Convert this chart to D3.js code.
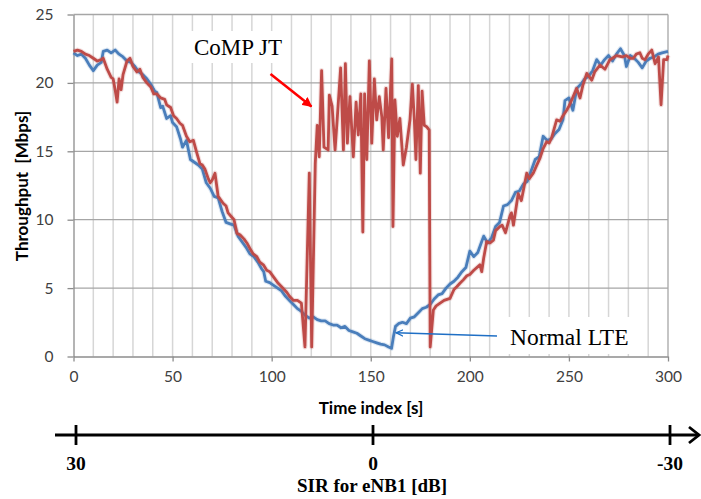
<!DOCTYPE html>
<html lang="en">
<head>
  <meta charset="UTF-8">
  <title>Throughput vs time index</title>
  <script src="https://d3js.org/d3.v7.min.js"></script>
  <style>
    body { margin: 0; background: #fff; }
    .axis text { font-family: Lato, sans-serif; font-size: 15.5px; fill: #404040; }
    .axis path, .axis line { stroke: #8c8c8c; stroke-width: 1.3; }
    .series { fill: none; stroke-width: 2.8; stroke-linejoin: round; }
    .halo { fill: none; stroke-width: 5; stroke-linejoin: round; opacity: 0.18; }
  </style>
</head>
<body>

<svg id="chart" width="701" height="499"></svg>

<script>
  // Normal LTE (blue)
  var lteTime = [0, 2, 4, 6, 8, 10, 12, 14, 15, 17, 19, 21, 23, 25, 27, 29, 31, 33, 35, 37, 39, 41, 42, 44, 45, 47, 49, 50,
    52, 54, 55, 57, 59, 61, 63, 65, 67, 69, 71, 73, 75, 77, 79, 81, 83, 85, 87, 89, 91, 93, 95, 96, 97, 99, 101, 103,
    105, 107, 109, 111, 113, 115, 117, 119, 121, 123, 125, 127, 129, 131, 133, 135, 137, 139, 141, 143, 145, 147, 149,
    151, 153, 155, 157, 159, 160.5, 161.5, 162.5, 164, 166, 168, 170, 172, 174, 176, 178, 180, 182, 184, 186, 188, 190,
    192, 194, 196, 198, 200, 202, 204, 206, 207, 209, 211, 213, 215, 217, 219, 221, 223, 225, 227, 229, 231, 233, 235,
    237, 239, 241, 243, 245, 247, 248, 250, 252, 254, 256, 258, 260, 262, 264, 266, 268, 270, 272, 274, 276, 278, 279,
    281, 283, 285, 287, 289, 291, 293, 295, 297, 300];
  var lteThroughput = [22.2, 22.0, 22.1, 21.8, 21.3, 20.9, 21.3, 21.5, 22.3, 22.4, 22.2, 22.4, 22.1, 21.9, 21.6, 21.5,
    21.2, 20.8, 20.6, 20.3, 19.9, 19.4, 19.3, 18.2, 18.3, 17.4, 17.6, 17.1, 16.8, 15.9, 15.3, 15.8, 14.4, 14.2, 14.0,
    13.7, 12.7, 12.3, 11.7, 11.6, 10.6, 9.8, 9.7, 9.6, 8.8, 8.4, 8.0, 7.5, 7.3, 6.9, 6.4, 6.2, 5.5, 5.4, 5.2, 5.0, 4.8,
    4.4, 4.1, 3.8, 3.5, 3.3, 3.0, 2.8, 2.9, 2.7, 2.6, 2.6, 2.4, 2.3, 2.3, 2.1, 2.2, 1.9, 1.8, 1.7, 1.5, 1.3, 1.2, 1.1,
    1.0, 0.9, 0.85, 0.7, 0.6, 1.5, 2.2, 2.4, 2.5, 2.4, 2.8, 2.9, 3.2, 3.5, 3.6, 3.8, 4.2, 4.5, 4.6, 5.0, 5.3, 5.5, 5.8,
    6.2, 6.5, 7.7, 7.3, 7.6, 8.4, 8.8, 8.3, 8.7, 9.5, 9.8, 11.0, 11.1, 11.4, 12.0, 12.1, 12.6, 12.8, 13.6, 14.4, 14.6,
    16.1, 15.8, 15.9, 16.3, 16.6, 17.3, 18.7, 18.9, 18.0, 19.6, 19.9, 20.3, 20.5, 20.9, 21.7, 21.3, 21.7, 22.0, 21.6,
    22.1, 22.5, 22.0, 21.2, 22.0, 21.8, 21.5, 21.1, 21.6, 21.8, 21.9, 22.1, 22.2, 22.3];

  // CoMP JT (red)
  var compTime = [0, 2, 4, 6, 8, 10, 12, 14, 15, 17, 19, 20, 21, 22, 23, 24, 25, 27, 28.5, 30, 32, 33.5, 35, 37, 39,
    40.5, 42, 44, 46, 47, 49, 50.5, 52, 53.7, 55, 57, 58.7, 60.5, 62, 63.8, 65, 66.3, 68, 69, 70, 71.4, 73, 75.5, 77,
    78, 79.8, 81, 82.5, 84, 86, 87.5, 89, 90.7, 92.5, 94, 95.8, 97.5, 99, 101, 103.3, 105, 107.6, 109, 111, 113, 115,
    116.8, 119, 120.2, 122, 123, 124, 125.2, 126.4, 128.5, 129.1, 130.5, 132, 133.1, 134.8, 136.2, 137.2, 138.2, 139.5,
    141.2, 142.6, 143.7, 145, 146, 146.9, 148, 149.3, 150.5, 151.8, 153, 154.3, 155.6, 156.3, 157.7, 159, 160.6, 161.2,
    162.2, 163.4, 164.7, 166.4, 168, 169.8, 171, 172, 172.8, 174, 175, 175.9, 177, 178.2, 179.5, 180, 181.6, 183, 185,
    187, 190, 192, 193.4, 195, 196.7, 198.5, 200, 202, 205.1, 206, 207, 208.5, 210.2, 211.9, 213, 215.2, 216.3, 218,
    220.3, 221, 222, 224.4, 226, 227.5, 228.7, 230, 232, 233.5, 235.4, 237, 238.8, 240, 241.3, 243.8, 245.5, 247,
    248.9, 250, 251.4, 253.9, 255.6, 257, 259, 261.5, 263, 265.7, 268.2, 270.7, 272, 274, 277, 279, 281, 282.5, 284,
    285.8, 287, 288.4, 290, 291.8, 293.5, 295.2, 296.5, 297.8, 299.5, 300];
  var compThroughput = [22.3, 22.4, 22.3, 22.1, 22.0, 21.8, 21.6, 21.7, 21.8, 21.0, 20.4, 20.3, 19.5, 18.6, 20.3,
    19.5, 20.6, 21.6, 21.8, 21.2, 20.8, 21.0, 20.4, 20.0, 19.7, 19.2, 19.2, 18.9, 18.8, 18.4, 18.2, 17.6, 17.4, 17.05,
    16.9, 16.1, 15.7, 15.8, 15.0, 14.1, 14.0, 13.7, 13.0, 12.7, 12.9, 13.4, 11.7, 11.2, 11.0, 10.5, 10.2, 10.0, 9.0,
    8.9, 8.6, 8.3, 7.9, 7.5, 7.3, 6.9, 6.7, 6.3, 6.2, 5.8, 5.35, 5.1, 4.7, 4.4, 4.1, 4.1, 3.9, 0.7, 13.4, 0.7, 14.1,
    16.9, 14.6, 20.9, 15.3, 15.1, 19.1, 18.3, 15.1, 17.4, 21.1, 15.1, 21.4, 15.6, 19.0, 14.6, 18.6, 16.2, 19.2, 9.1,
    19.2, 14.4, 21.6, 15.6, 20.3, 17.3, 19.0, 17.5, 15.1, 19.6, 16.0, 21.75, 9.5, 18.75, 16.1, 17.4, 14.0, 15.3, 17.3,
    19.9, 17.3, 14.4, 19.8, 13.4, 19.4, 16.9, 16.8, 16.55, 0.7, 3.4, 3.7, 3.9, 4.1, 4.25, 4.9, 5.1, 5.35, 5.6, 5.9,
    6.0, 6.3, 6.7, 6.2, 7.2, 8.4, 8.3, 8.5, 9.2, 9.5, 9.6, 9.05, 10.3, 10.5, 9.6, 11.9, 11.4, 12.5, 13.4, 13.0, 13.4,
    13.9, 14.5, 15.2, 15.7, 15.6, 16.0, 17.3, 17.2, 17.6, 18.0, 18.3, 18.75, 19.6, 18.9, 19.8, 20.7, 20.2, 20.8, 21.3,
    21.0, 21.7, 21.8, 22.0, 21.9, 22.0, 21.8, 21.8, 22.1, 22.2, 21.8, 21.7, 22.1, 22.4, 21.4, 21.9, 18.4, 21.7, 21.7,
    22.0];

  var timeTicks = [0, 50, 100, 150, 200, 250, 300];
  var throughputTicks = [0, 5, 10, 15, 20, 25];
  var sirTicks = [30, 0, -30];

  var svg = d3.select('#chart');

  var x = d3.scaleLinear().domain([0, 300]).range([73.5, 668]);
  var y = d3.scaleLinear().domain([0, 25]).range([356.5, 14.5]);
  var sir = d3.scaleLinear().domain([30, -30]).range([76, 670]);

  // vertical grid every 10 s
  svg.append('g')
    .selectAll('line')
    .data(x.ticks(30).filter(function (d) { return d > 0 && d < 300; }))
    .enter()
    .append('line')
    .attr('x1', d => x(d)).attr('x2', d => x(d))
    .attr('y1', y(25)).attr('y2', y(0))
    .attr('stroke', '#d6d6d6')
    .attr('stroke-width', 1.5);

  // horizontal grid
  svg.append('g')
    .selectAll('line')
    .data(throughputTicks.slice(1))
    .enter()
    .append('line')
    .attr('x1', x(0)).attr('x2', x(300))
    .attr('y1', d => y(d)).attr('y2', d => y(d))
    .attr('stroke', '#a6a6a6')
    .attr('stroke-width', 1.3);

  // plot border on the right
  svg.append('line')
    .attr('x1', x(300)).attr('x2', x(300))
    .attr('y1', y(25)).attr('y2', y(0))
    .attr('stroke', '#a6a6a6')
    .attr('stroke-width', 1.3);

  // axes
  svg.append('g')
    .attr('class', 'axis')
    .attr('transform', 'translate(0,' + y(0) + ')')
    .call(d3.axisBottom(x).tickValues(timeTicks).tickSize(5).tickSizeOuter(0).tickPadding(9));

  svg.append('g')
    .attr('class', 'axis')
    .attr('transform', 'translate(' + x(0) + ',0)')
    .call(d3.axisLeft(y).tickValues(throughputTicks).tickSize(6).tickSizeOuter(0).tickPadding(14));

  // series
  var line = d3.line()
    .x(d => x(d[0]))
    .y(d => y(d[1]));

  var series = [
    { pts: d3.zip(lteTime, lteThroughput), color: '#4a7ebb' },
    { pts: d3.zip(compTime, compThroughput), color: '#be4b48' }
  ];

  series.forEach(function (s) {
    svg.append('path')
      .datum(s.pts)
      .attr('class', 'halo')
      .attr('stroke', s.color)
      .attr('d', line);
    svg.append('path')
      .datum(s.pts)
      .attr('class', 'series')
      .attr('stroke', s.color)
      .attr('d', line);
  });

  // axis titles
  svg.append('text')
    .attr('x', 371).attr('y', 414)
    .attr('text-anchor', 'middle')
    .style('font-family', 'Lato, sans-serif')
    .style('font-weight', 'bold')
    .style('font-size', '17px')
    .text('Time index [s]');

  svg.append('text')
    .attr('transform', 'translate(28,186) rotate(-90)')
    .attr('text-anchor', 'middle')
    .style('font-family', 'Lato, sans-serif')
    .style('font-weight', 'bold')
    .style('font-size', '17px')
    .style('white-space', 'pre')
    .text('Throughput  [Mbps]');

  // annotations
  var defs = svg.append('defs');
  defs.append('marker')
    .attr('id', 'redHead')
    .attr('viewBox', '0 0 10 10')
    .attr('refX', 9).attr('refY', 5)
    .attr('markerWidth', 4).attr('markerHeight', 4)
    .attr('orient', 'auto')
    .append('path')
    .attr('d', 'M0,0L10,5L0,10Z')
    .attr('fill', '#ff0000');

  defs.append('marker')
    .attr('id', 'blueHead')
    .attr('viewBox', '0 0 10 10')
    .attr('refX', 9).attr('refY', 5)
    .attr('markerWidth', 8).attr('markerHeight', 8)
    .attr('markerUnits', 'userSpaceOnUse')
    .attr('orient', 'auto')
    .append('path')
    .attr('d', 'M0,1L9,5L0,9')
    .attr('fill', 'none')
    .attr('stroke', '#1f6fc5')
    .attr('stroke-width', 1.6);

  svg.append('rect')
    .attr('x', 187).attr('y', 31).attr('width', 102).attr('height', 32)
    .attr('fill', '#fff');
  svg.append('text')
    .attr('x', 194).attr('y', 55)
    .style('font-family', '"Liberation Serif", serif')
    .style('font-size', '23px')
    .text('CoMP JT');

  svg.append('line')
    .attr('x1', 270.5).attr('y1', 74)
    .attr('x2', 311.5).attr('y2', 106.5)
    .attr('stroke', '#ff0000')
    .attr('stroke-width', 2.5)
    .attr('marker-end', 'url(#redHead)');

  svg.append('rect')
    .attr('x', 503).attr('y', 317).attr('width', 136).attr('height', 37)
    .attr('fill', '#fff');
  svg.append('text')
    .attr('x', 510).attr('y', 345)
    .style('font-family', '"Liberation Serif", serif')
    .style('font-size', '23.5px')
    .text('Normal LTE');

  svg.append('line')
    .attr('x1', 497).attr('y1', 336)
    .attr('x2', 396).attr('y2', 332.7)
    .attr('stroke', '#1f6fc5')
    .attr('stroke-width', 1.6)
    .attr('marker-end', 'url(#blueHead)');

  // SIR axis below
  var sirY = 435;
  svg.append('line')
    .attr('x1', 55).attr('x2', 699)
    .attr('y1', sirY).attr('y2', sirY)
    .attr('stroke', '#000')
    .attr('stroke-width', 2.8);
  svg.append('path')
    .attr('d', 'M689,427L699,435L689,443')
    .attr('fill', 'none')
    .attr('stroke', '#000')
    .attr('stroke-width', 2.8);

  svg.append('g')
    .selectAll('line')
    .data(sirTicks)
    .enter()
    .append('line')
    .attr('x1', d => sir(d)).attr('x2', d => sir(d))
    .attr('y1', sirY - 10).attr('y2', sirY + 10)
    .attr('stroke', '#000')
    .attr('stroke-width', 2.8);

  svg.append('g')
    .selectAll('text')
    .data(sirTicks)
    .enter()
    .append('text')
    .attr('x', d => sir(d)).attr('y', 470)
    .attr('text-anchor', 'middle')
    .style('font-family', '"Liberation Serif", serif')
    .style('font-weight', 'bold')
    .style('font-size', '19.5px')
    .text(d => d);

  svg.append('text')
    .attr('x', 372).attr('y', 492)
    .attr('text-anchor', 'middle')
    .style('font-family', '"Liberation Serif", serif')
    .style('font-weight', 'bold')
    .style('font-size', '19px')
    .text('SIR for eNB1 [dB]');
</script>

</body>
</html>
